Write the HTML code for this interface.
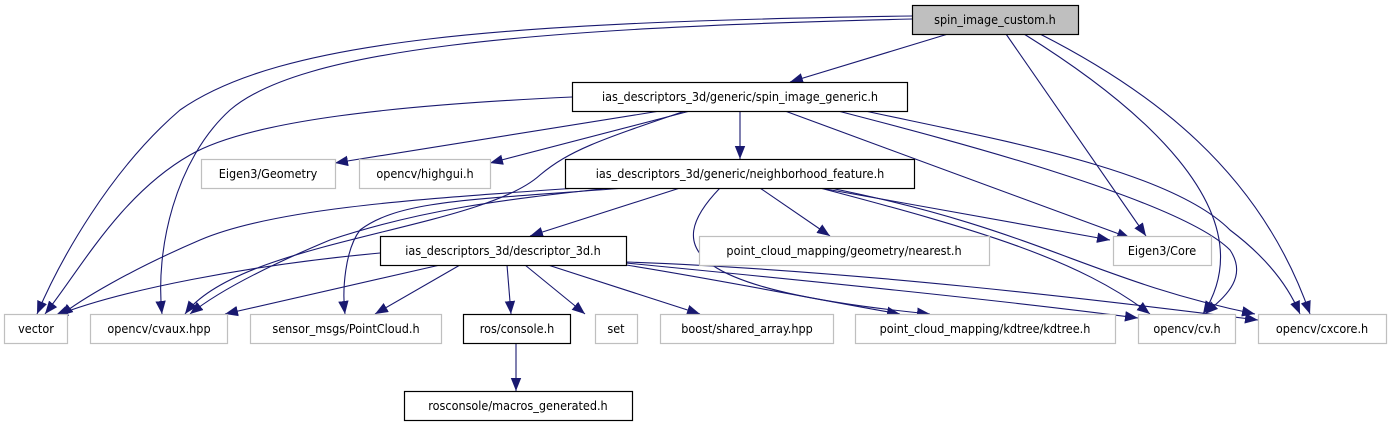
<!DOCTYPE html>
<html><head><meta charset="utf-8"><style>
html,body{margin:0;padding:0;background:#fff;}
svg{display:block;}
text{font-family:"DejaVu Sans Condensed","Liberation Sans",sans-serif;font-size:12.5px;fill:#000;}
.e{fill:none;stroke:#191970;stroke-width:1.1;}
.b{fill:#fff;stroke:#000;stroke-width:1.2;}
.g{fill:#fff;stroke:#bfbfbf;stroke-width:1.2;}
</style></head><body>
<svg width="1389" height="427" viewBox="0 0 1389 427" xmlns="http://www.w3.org/2000/svg">
<defs><marker id="a" viewBox="0 0 10 10" refX="10" refY="5" markerWidth="13" markerHeight="13" markerUnits="userSpaceOnUse" orient="auto"><path d="M0,1 L10,5 L0,9 z" fill="#191970"/></marker></defs>
<g class="e" marker-end="url(#a)">
<path d="M948,34 L790,82"/>
<path d="M912,16 C500,22 280,40 180,110 C110,170 60,260 37,314"/>
<path d="M912,19 C520,28 300,50 230,110 C175,160 155,250 162,314"/>
<path d="M1006,34 L1146,236"/>
<path d="M1024,34 C1130,100 1270,210 1203,314"/>
<path d="M1040,34 C1150,90 1260,170 1310,314"/>
<path d="M572,97 C400,105 250,120 190,155 C120,195 80,270 45,314"/>
<path d="M660,111 L335,163"/>
<path d="M690,111 L490,163"/>
<path d="M740,111 L740,159"/>
<path d="M685,111 C600,140 570,150 540,175 C480,230 240,240 185,314"/>
<path d="M785,111 L1130,238"/>
<path d="M838,111 C950,140 1180,200 1230,250 C1250,280 1220,300 1205,314"/>
<path d="M865,111 C1000,140 1170,170 1230,230 C1270,260 1290,290 1300,314"/>
<path d="M578,188 C400,200 270,210 200,240 C130,270 80,300 60,316"/>
<path d="M610,188 C500,200 420,210 330,240 C270,265 220,290 190,314"/>
<path d="M680,188 L530,236"/>
<path d="M625,188 C470,200 400,200 360,230 C345,250 342,290 345,314"/>
<path d="M760,188 L830,236"/>
<path d="M720,188 C660,250 690,290 930,314"/>
<path d="M820,188 L1110,240"/>
<path d="M820,188 C980,230 1080,260 1150,314"/>
<path d="M830,188 C1040,230 1090,280 1255,314"/>
<path d="M380,253 C250,265 120,290 55,316"/>
<path d="M440,265 L225,314"/>
<path d="M460,265 L375,314"/>
<path d="M507,265 L511,314"/>
<path d="M525,265 L585,314"/>
<path d="M548,265 L700,314"/>
<path d="M626,265 C720,280 820,300 900,314"/>
<path d="M626,263 C800,280 1000,300 1138,318"/>
<path d="M626,262 C850,270 1100,300 1258,320"/>
<path d="M516,343 L516,391"/>
</g>
<rect x="912.5" y="5.5" width="166" height="29" fill="#bfbfbf" stroke="#000" stroke-width="1.2"/>
<text x="995" y="24" text-anchor="middle">spin_image_custom.h</text>
<rect class="b" x="572.5" y="82.5" width="335" height="29"/>
<text x="740" y="101" text-anchor="middle">ias_descriptors_3d/generic/spin_image_generic.h</text>
<rect class="g" x="201.5" y="159.5" width="134" height="29"/><text x="268" y="178" text-anchor="middle">Eigen3/Geometry</text>
<rect class="g" x="359.5" y="159.5" width="131" height="29"/><text x="425" y="178" text-anchor="middle">opencv/highgui.h</text>
<rect class="b" x="565.5" y="159.5" width="349" height="29"/><text x="740" y="178" text-anchor="middle">ias_descriptors_3d/generic/neighborhood_feature.h</text>
<rect class="b" x="380.5" y="236.5" width="246" height="29"/><text x="503" y="255" text-anchor="middle">ias_descriptors_3d/descriptor_3d.h</text>
<rect class="g" x="699.5" y="236.5" width="290" height="29"/><text x="844" y="255" text-anchor="middle">point_cloud_mapping/geometry/nearest.h</text>
<rect class="g" x="1113.5" y="236.5" width="98" height="29"/><text x="1162" y="255" text-anchor="middle">Eigen3/Core</text>
<rect class="g" x="4.5" y="314.5" width="63" height="29"/><text x="36" y="333" text-anchor="middle">vector</text>
<rect class="g" x="90.5" y="314.5" width="137" height="29"/><text x="159" y="333" text-anchor="middle">opencv/cvaux.hpp</text>
<rect class="g" x="250.5" y="314.5" width="191" height="29"/><text x="346" y="333" text-anchor="middle">sensor_msgs/PointCloud.h</text>
<rect class="b" x="463.5" y="314.5" width="107" height="29"/><text x="517" y="333" text-anchor="middle">ros/console.h</text>
<rect class="g" x="595.5" y="314.5" width="42" height="29"/><text x="616" y="333" text-anchor="middle">set</text>
<rect class="g" x="660.5" y="314.5" width="173" height="29"/><text x="747" y="333" text-anchor="middle">boost/shared_array.hpp</text>
<rect class="g" x="855.5" y="314.5" width="260" height="29"/><text x="985" y="333" text-anchor="middle">point_cloud_mapping/kdtree/kdtree.h</text>
<rect class="g" x="1138.5" y="314.5" width="97" height="29"/><text x="1187" y="333" text-anchor="middle">opencv/cv.h</text>
<rect class="g" x="1258.5" y="314.5" width="128" height="29"/><text x="1322" y="333" text-anchor="middle">opencv/cxcore.h</text>
<rect class="b" x="404.5" y="391.5" width="228" height="29"/><text x="518" y="410" text-anchor="middle">rosconsole/macros_generated.h</text>
</svg>
</body></html>
